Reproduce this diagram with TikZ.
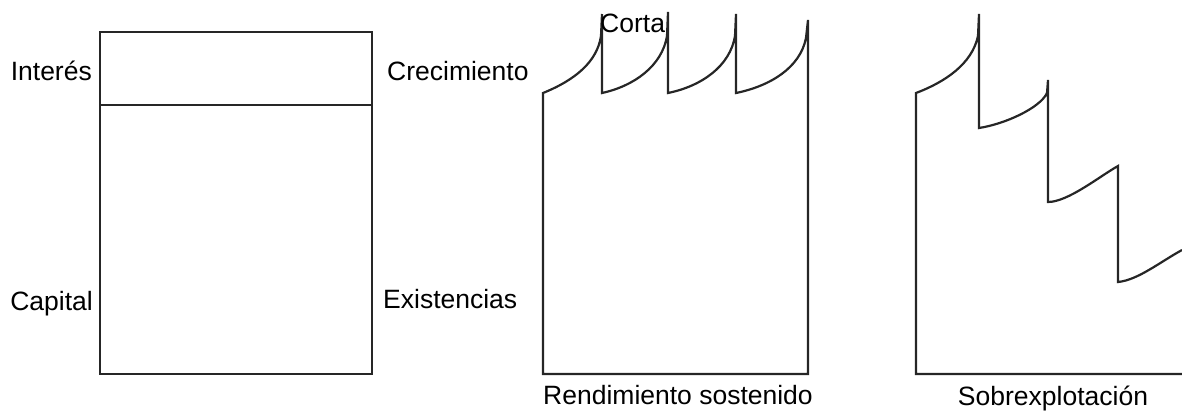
\documentclass[tikz,border=0pt]{standalone}
\usepackage{fontspec}
\setmainfont{Liberation Sans}
\begin{document}
\begin{tikzpicture}[x=1pt,y=-1pt,
  shape line/.style={draw=black!85,line width=2.2pt,line join=miter},
  lbl/.style={inner sep=0pt,font=\fontsize{26.5}{30}\selectfont}]
\useasboundingbox (0,0) rectangle (1182,410);
% left box
\draw[shape line] (100,32) rectangle (372,374);
\draw[shape line] (100,105) -- (372,105);
\node[lbl,anchor=base east] (interes) at (92,80) {Interés};
\node[lbl,anchor=base east] (capital) at (93,310) {Capital};
% sustained yield
\draw[shape line] (602,14) -- (602,93)
  .. controls (634,86) and (662,66) .. (667,36) -- (668,12) -- (668,93)
  .. controls (702,86) and (730,66) .. (735,36) -- (736,14) -- (736,93)
  .. controls (770,86) and (800,68) .. (806,38) -- (808,20) -- (808,374)
  -- (543,374) -- (543,93)
  .. controls (575,80) and (597,62) .. (601,36) -- (602,14);
\node[lbl,anchor=base west] (crec) at (387,80) {Crecimiento};
\node[lbl,anchor=base west] (exist) at (383,308) {Existencias};
\node[lbl,anchor=base west] (corta) at (600,32) {Corta};
\node[lbl,anchor=base west] (rend) at (543,404) {Rendimiento sostenido};
% over-exploitation
\draw[shape line] (1182,250)
  .. controls (1160,262) and (1138,280) .. (1118,282) -- (1118,166)
  .. controls (1100,176) and (1068,202) .. (1048,202) -- (1048,80)
  -- (1047,93) .. controls (1040,108) and (1005,124) .. (979,128) -- (979,14)
  -- (978,36) .. controls (972,64) and (945,82) .. (916,93) -- (916,374) -- (1182,374);
\node[lbl,anchor=base] (sobre) at (1053,405) {Sobrexplotación};
\end{tikzpicture}
\end{document}
